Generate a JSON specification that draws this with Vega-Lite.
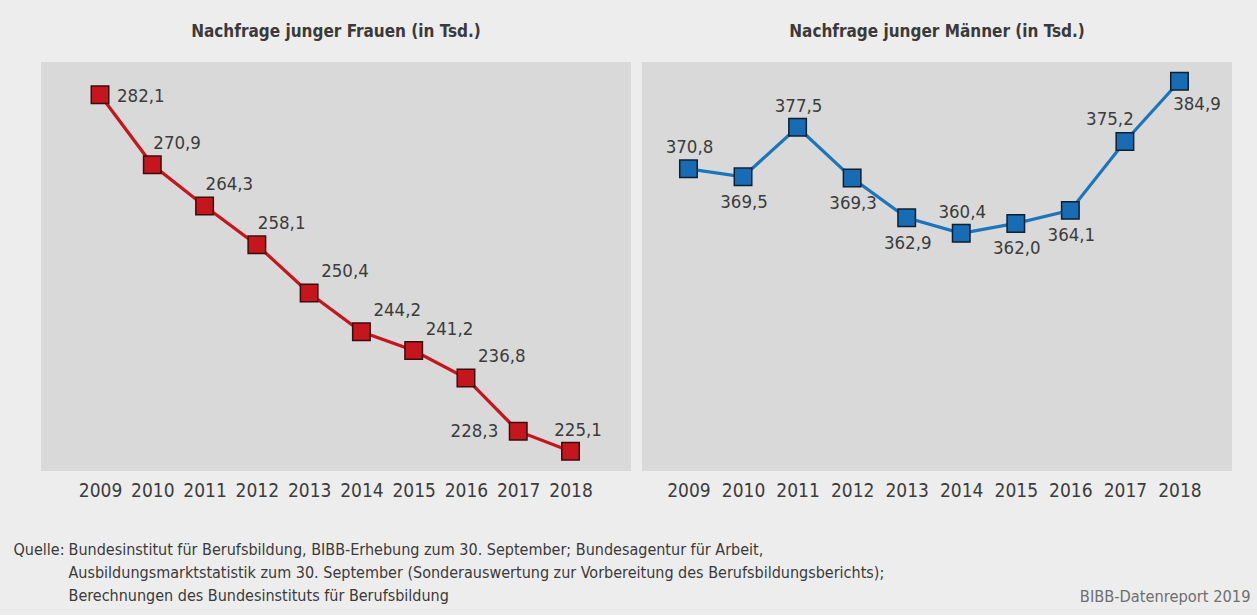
{
  "$schema": "https://vega.github.io/schema/vega-lite/v6.json",
  "background": "#ededed",
  "padding": {"left": 13, "top": 23, "right": 7, "bottom": 10},
  "bounds": "flush",
  "spacing": 11,
  "config": {
    "locale": {"number": {"decimal": ",", "thousands": ".", "grouping": [3], "currency": ["", " €"]}},
    "view": {"fill": "#d9d9d9", "stroke": null},
    "font": "Liberation Sans Narrow, DejaVu Sans Condensed, sans-serif",
    "title": {"fontSize": 17, "fontWeight": "bold", "color": "#3a3a3a", "anchor": "middle", "baseline": "alphabetic", "offset": 20.7, "font": "Liberation Sans Narrow, DejaVu Sans Condensed, sans-serif"},
    "axis": {"grid": false, "ticks": false, "domain": false, "labelFont": "Liberation Sans Narrow, DejaVu Sans Condensed, sans-serif", "titleFont": "Liberation Sans Narrow, DejaVu Sans Condensed, sans-serif"},
    "text": {"font": "Liberation Sans Narrow, DejaVu Sans Condensed, sans-serif"}
  },
  "datasets": {
    "frauen": [
      {"year": 2009, "value": 282.1},
      {"year": 2010, "value": 270.9},
      {"year": 2011, "value": 264.3},
      {"year": 2012, "value": 258.1},
      {"year": 2013, "value": 250.4},
      {"year": 2014, "value": 244.2},
      {"year": 2015, "value": 241.2},
      {"year": 2016, "value": 236.8},
      {"year": 2017, "value": 228.3},
      {"year": 2018, "value": 225.1}
    ],
    "maenner": [
      {"year": 2009, "value": 370.8},
      {"year": 2010, "value": 369.5},
      {"year": 2011, "value": 377.5},
      {"year": 2012, "value": 369.3},
      {"year": 2013, "value": 362.9},
      {"year": 2014, "value": 360.4},
      {"year": 2015, "value": 362.0},
      {"year": 2016, "value": 364.1},
      {"year": 2017, "value": 375.2},
      {"year": 2018, "value": 384.9}
    ]
  },
  "hconcat": [
    {
      "width": 590,
      "height": 409,
      "title": {"text": "Nachfrage junger Frauen (in Tsd.)"},
      "data": {"name": "frauen"},
      "encoding": {
        "x": {
          "field": "year", "type": "quantitative",
          "scale": {"domain": [2007.871, 2019.157], "nice": false, "zero": false},
          "axis": {
            "values": [2009, 2010, 2011, 2012, 2013, 2014, 2015, 2016, 2017, 2018],
            "format": "d", "labelFontSize": 19, "labelColor": "#3c3c3c", "labelPadding": 10,
            "labelFlush": false, "labelOverlap": false,
            "title": "Quelle:", "titleX": -28, "titleY": 83.8, "titleAlign": "left", "titleBaseline": "alphabetic",
            "titleFontSize": 16, "titleFontWeight": "normal", "titleColor": "#3a3a3a"
          }
        },
        "y": {
          "field": "value", "type": "quantitative",
          "scale": {"domain": [221.94, 287.34], "nice": false, "zero": false},
          "axis": {
            "labels": false,
            "title": [
              "Bundesinstitut für Berufsbildung, BIBB-Erhebung zum 30. September; Bundesagentur für Arbeit,",
              "Ausbildungsmarktstatistik zum 30. September (Sonderauswertung zur Vorbereitung des Berufsbildungsberichts);",
              "Berechnungen des Bundesinstituts für Berufsbildung"
            ],
            "titleAngle": 0, "titleX": 27, "titleY": 492.8, "titleAlign": "left", "titleBaseline": "alphabetic",
            "titleFontSize": 16, "titleFontWeight": "normal", "titleColor": "#3a3a3a", "titleLineHeight": 23
          }
        }
      },
      "layer": [
        {"mark": {"type": "line", "color": "#c4161c", "strokeWidth": 3.2}},
        {"mark": {"type": "point", "shape": "square", "filled": true, "size": 306, "fill": "#c4161c", "stroke": "#3b0d0d", "strokeWidth": 1.5, "opacity": 1}},
        {
          "transform": [{"filter": {"field": "year", "oneOf": [2009]}}],
          "mark": {"type": "text", "align": "left", "baseline": "middle", "dx": 17, "dy": 1, "fontSize": 18.5, "color": "#3c3c3c"},
          "encoding": {"text": {"field": "value", "type": "quantitative", "format": ".1f"}}
        },
        {
          "transform": [{"filter": {"field": "year", "oneOf": [2010, 2011, 2012]}}],
          "mark": {"type": "text", "align": "left", "baseline": "middle", "dx": 1, "dy": -22, "fontSize": 18.5, "color": "#3c3c3c"},
          "encoding": {"text": {"field": "value", "type": "quantitative", "format": ".1f"}}
        },
        {
          "transform": [{"filter": {"field": "year", "oneOf": [2013, 2014, 2015, 2016]}}],
          "mark": {"type": "text", "align": "left", "baseline": "middle", "dx": 12, "dy": -22, "fontSize": 18.5, "color": "#3c3c3c"},
          "encoding": {"text": {"field": "value", "type": "quantitative", "format": ".1f"}}
        },
        {
          "transform": [{"filter": {"field": "year", "oneOf": [2017]}}],
          "mark": {"type": "text", "align": "right", "baseline": "middle", "dx": -20, "dy": 0, "fontSize": 18.5, "color": "#3c3c3c"},
          "encoding": {"text": {"field": "value", "type": "quantitative", "format": ".1f"}}
        },
        {
          "transform": [{"filter": {"field": "year", "oneOf": [2018]}}],
          "mark": {"type": "text", "align": "center", "baseline": "middle", "dx": 7.5, "dy": -21, "fontSize": 18.5, "color": "#3c3c3c"},
          "encoding": {"text": {"field": "value", "type": "quantitative", "format": ".1f"}}
        }
      ]
    },
    {
      "width": 590,
      "height": 409,
      "title": {"text": "Nachfrage junger Männer (in Tsd.)"},
      "data": {"name": "maenner"},
      "encoding": {
        "x": {
          "field": "year", "type": "quantitative",
          "scale": {"domain": [2008.148, 2018.963], "nice": false, "zero": false},
          "axis": {
            "values": [2009, 2010, 2011, 2012, 2013, 2014, 2015, 2016, 2017, 2018],
            "format": "d", "labelFontSize": 19, "labelColor": "#3c3c3c", "labelPadding": 10,
            "labelFlush": false, "labelOverlap": false,
            "title": "BIBB-Datenreport 2019", "titleX": 608, "titleY": 130.3, "titleAlign": "right", "titleBaseline": "alphabetic",
            "titleFontSize": 16.3, "titleFontWeight": "normal", "titleColor": "#6f6f6f"
          }
        },
        "y": {
          "field": "value", "type": "quantitative",
          "scale": {"domain": [322.1, 388.01], "nice": false, "zero": false},
          "axis": null
        }
      },
      "layer": [
        {"mark": {"type": "line", "color": "#1b75bc", "strokeWidth": 3.2}},
        {"mark": {"type": "point", "shape": "square", "filled": true, "size": 306, "fill": "#176cb3", "stroke": "#0d1f33", "strokeWidth": 1.5, "opacity": 1}},
        {
          "transform": [{"filter": {"field": "year", "oneOf": [2009, 2011, 2014]}}],
          "mark": {"type": "text", "align": "center", "baseline": "middle", "dx": 1, "dy": -21.5, "fontSize": 18.5, "color": "#3c3c3c"},
          "encoding": {"text": {"field": "value", "type": "quantitative", "format": ".1f"}}
        },
        {
          "transform": [{"filter": {"field": "year", "oneOf": [2010, 2012, 2013, 2015, 2016]}}],
          "mark": {"type": "text", "align": "center", "baseline": "middle", "dx": 1, "dy": 25, "fontSize": 18.5, "color": "#3c3c3c"},
          "encoding": {"text": {"field": "value", "type": "quantitative", "format": ".1f"}}
        },
        {
          "transform": [{"filter": {"field": "year", "oneOf": [2017]}}],
          "mark": {"type": "text", "align": "center", "baseline": "middle", "dx": -15, "dy": -22, "fontSize": 18.5, "color": "#3c3c3c"},
          "encoding": {"text": {"field": "value", "type": "quantitative", "format": ".1f"}}
        },
        {
          "transform": [{"filter": {"field": "year", "oneOf": [2018]}}],
          "mark": {"type": "text", "align": "center", "baseline": "middle", "dx": 17.5, "dy": 23, "fontSize": 18.5, "color": "#3c3c3c"},
          "encoding": {"text": {"field": "value", "type": "quantitative", "format": ".1f"}}
        }
      ]
    }
  ]
}
